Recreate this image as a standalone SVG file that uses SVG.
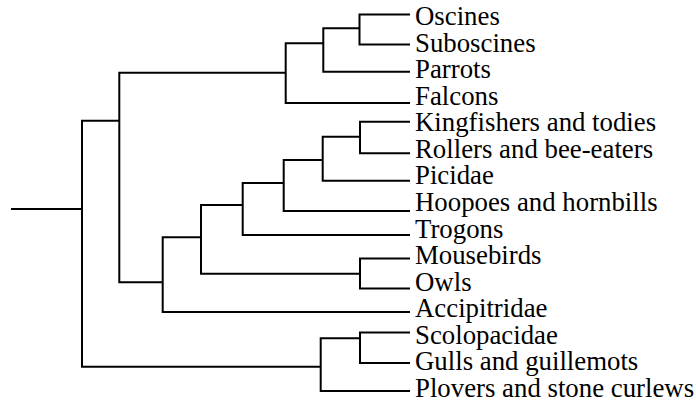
<svg xmlns="http://www.w3.org/2000/svg" width="696" height="407" viewBox="0 0 696 407">
  <style>
    .edge { fill: none; stroke: #000; stroke-width: 2; stroke-linejoin: miter; stroke-linecap: butt; }
    .taxon { font-family: "Liberation Serif", "Times New Roman", serif; font-size: 26.8px; fill: #000; }
  </style>
  <rect width="696" height="407" fill="#fff"/>

  <!-- branches of the bird cladogram -->
  <g id="connectors">
    <path class="edge" d="M11,209 H82"/>
    <path class="edge" d="M119.3,120.7 H82 V366.7 H320.7"/>
    <path class="edge" d="M285.7,72.7 H119.3 V282.3 H162.7"/>
    <path class="edge" d="M323.3,43.3 H285.7 V103 H410"/>
    <path class="edge" d="M359.5,28.3 H323.3 V71.7 H410"/>
    <path class="edge" d="M410,14.5 H359.5 V44.5 H410"/>
    <path class="edge" d="M201,237.3 H162.7 V312 H410"/>
    <path class="edge" d="M242.7,205 H201 V273.7 H360"/>
    <path class="edge" d="M283.7,183 H242.7 V235 H410"/>
    <path class="edge" d="M322.7,160 H283.7 V211 H410"/>
    <path class="edge" d="M360,136.7 H322.7 V180.7 H410"/>
    <path class="edge" d="M410,121.7 H360 V153.3 H410"/>
    <path class="edge" d="M410,258.5 H360 V288.5 H410"/>
    <path class="edge" d="M360,338.3 H320.7 V391 H410"/>
    <path class="edge" d="M410,332.5 H360 V363 H410"/>
  </g>

  <!-- terminal taxa -->
  <g id="oscines"><text class="taxon" x="415" y="25">Oscines</text></g>
  <g id="suboscines"><text class="taxon" x="415" y="51.6">Suboscines</text></g>
  <g id="parrots"><text class="taxon" x="415" y="78.1">Parrots</text></g>
  <g id="falcons"><text class="taxon" x="415" y="104.7">Falcons</text></g>
  <g id="kingfishers"><text class="taxon" x="415" y="131.3">Kingfishers and todies</text></g>
  <g id="rollers"><text class="taxon" x="415" y="157.9">Rollers and bee-eaters</text></g>
  <g id="picidae"><text class="taxon" x="415" y="184.4">Picidae</text></g>
  <g id="hoopoes"><text class="taxon" x="415" y="211">Hoopoes and hornbills</text></g>
  <g id="trogons"><text class="taxon" x="415" y="237.6">Trogons</text></g>
  <g id="mousebirds"><text class="taxon" x="415" y="264.1">Mousebirds</text></g>
  <g id="owls"><text class="taxon" x="415" y="290.7">Owls</text></g>
  <g id="accipitridae"><text class="taxon" x="415" y="317.3">Accipitridae</text></g>
  <g id="scolopacidae"><text class="taxon" x="415" y="343.8">Scolopacidae</text></g>
  <g id="gulls"><text class="taxon" x="415" y="370.4">Gulls and guillemots</text></g>
  <g id="plovers"><text class="taxon" x="415" y="397">Plovers and stone curlews</text></g>
</svg>
